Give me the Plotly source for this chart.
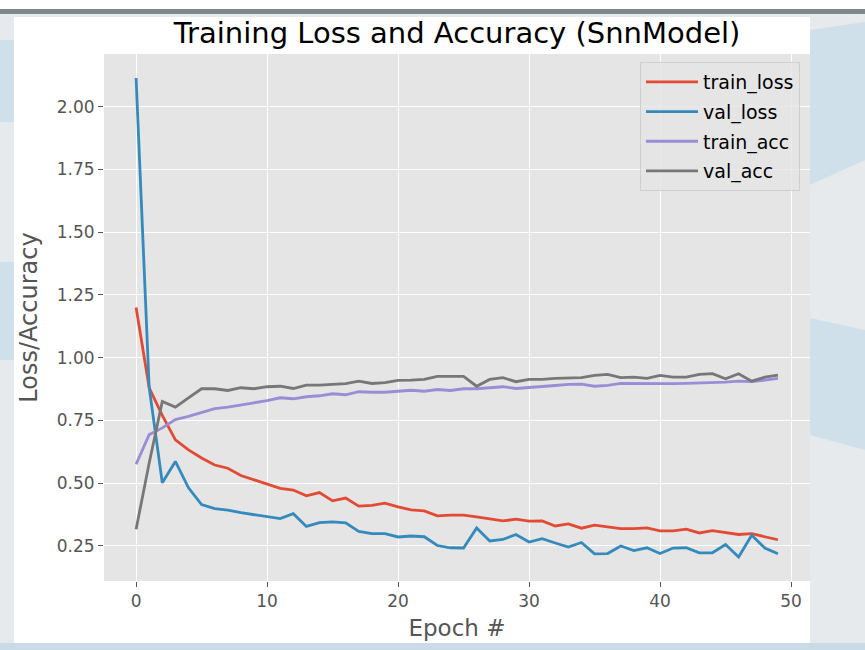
import plotly.graph_objects as go

epochs = list(range(50))

train_loss = [1.20, 0.88, 0.77, 0.672, 0.632, 0.600, 0.572, 0.559, 0.530, 0.512,
              0.495, 0.479, 0.472, 0.449, 0.462, 0.429, 0.440, 0.408, 0.411, 0.420,
              0.405, 0.393, 0.389, 0.369, 0.372, 0.372, 0.365, 0.356, 0.349, 0.356,
              0.348, 0.349, 0.329, 0.337, 0.320, 0.332, 0.325, 0.318, 0.318, 0.321,
              0.309, 0.309, 0.316, 0.301, 0.310, 0.302, 0.295, 0.298, 0.285, 0.274]

val_loss = [2.115, 0.88, 0.501, 0.586, 0.481, 0.414, 0.398, 0.392, 0.382, 0.374,
            0.365, 0.358, 0.378, 0.327, 0.342, 0.345, 0.341, 0.307, 0.298, 0.298,
            0.285, 0.289, 0.286, 0.251, 0.242, 0.241, 0.321, 0.269, 0.275, 0.295,
            0.265, 0.278, 0.261, 0.245, 0.263, 0.218, 0.219, 0.249, 0.231, 0.242,
            0.219, 0.241, 0.242, 0.222, 0.222, 0.255, 0.205, 0.292, 0.241, 0.218]

train_acc = [0.575, 0.693, 0.720, 0.753, 0.766, 0.783, 0.797, 0.803, 0.813, 0.820,
             0.829, 0.840, 0.836, 0.844, 0.848, 0.856, 0.852, 0.864, 0.862, 0.862,
             0.866, 0.870, 0.866, 0.873, 0.869, 0.876, 0.876, 0.880, 0.884, 0.877,
             0.880, 0.884, 0.889, 0.893, 0.894, 0.886, 0.889, 0.897, 0.896, 0.896,
             0.897, 0.896, 0.897, 0.898, 0.900, 0.902, 0.906, 0.904, 0.910, 0.917]

val_acc = [0.316, 0.58, 0.825, 0.803, 0.840, 0.876, 0.876, 0.869, 0.880, 0.876,
           0.884, 0.886, 0.877, 0.890, 0.890, 0.892, 0.896, 0.906, 0.897, 0.900,
           0.909, 0.910, 0.913, 0.925, 0.925, 0.925, 0.886, 0.913, 0.920, 0.904,
           0.913, 0.913, 0.917, 0.920, 0.920, 0.929, 0.933, 0.920, 0.922, 0.917,
           0.929, 0.922, 0.922, 0.933, 0.936, 0.916, 0.936, 0.906, 0.922, 0.930]

series_names = ["train_loss", "val_loss", "train_acc", "val_acc"]
series_values = [train_loss, val_loss, train_acc, val_acc]
series_colors = ["#E24A33", "#348ABD", "#988ED5", "#777777"]

title_text = "Training Loss and Accuracy (SnnModel)"
x_title = "Epoch #"
y_title = "Loss/Accuracy"
x_ticks = [0, 10, 20, 30, 40, 50]
y_ticks = [0.25, 0.50, 0.75, 1.00, 1.25, 1.50, 1.75, 2.00]

W, H = 865, 650
L, R, T, B = 104, 55, 54, 69
PW, PH = W - L - R, H - T - B


def xp(px):
    return (px - L) / PW


def yp(py):
    return (H - B - py) / PH


fig = go.Figure()
for name, vals, col in zip(series_names, series_values, series_colors):
    fig.add_trace(go.Scatter(x=epochs, y=vals, mode="lines", name=name,
                             legendgroup=name,
                             line=dict(color=col, width=2.8)))

shapes = []


def rect(x0, y0, x1, y1, color):
    shapes.append(dict(type="rect", xref="paper", yref="paper", layer="below",
                       x0=xp(x0), x1=xp(x1), y0=yp(y1), y1=yp(y0),
                       fillcolor=color, line=dict(width=0)))


def poly(points, color):
    d = "M " + " L ".join(f"{xp(a)},{yp(b)}" for a, b in points) + " Z"
    shapes.append(dict(type="path", xref="paper", yref="paper", layer="below",
                       path=d, fillcolor=color, line=dict(width=0)))


# screenshot surroundings
rect(0, 0, W, 9, "#ffffff")
rect(0, 9, W, 14, "#7e878b")
poly([(810, 30), (865, 22), (865, 160), (810, 185)], "#cfe0ea")
poly([(810, 318), (865, 330), (865, 450), (810, 435)], "#cfe0ea")
poly([(0, 40), (14, 40), (14, 122), (0, 122)], "#cfe0ea")
poly([(0, 262), (14, 262), (14, 360), (0, 360)], "#cfe0ea")
rect(0, 643, W, H, "#c9dbe6")
# figure and axes backgrounds
rect(14, 17, 810, 643, "#ffffff")
shapes.append(dict(type="rect", xref="paper", yref="paper", layer="below",
                   x0=0, x1=1, y0=0, y1=1, fillcolor="#E5E5E5", line=dict(width=0)))

axis_common = dict(showgrid=True, gridcolor="#ffffff", gridwidth=1.2,
                   zeroline=False, showline=False,
                   ticks="outside", ticklen=5, tickwidth=1, tickcolor="#555555",
                   tickfont=dict(family="DejaVu Sans", size=17, color="#555555"))

fig.update_layout(
    width=W, height=H,
    margin=dict(l=L, r=R, t=T, b=B, pad=0),
    paper_bgcolor="#e6eaed",
    plot_bgcolor="#E5E5E5",
    shapes=shapes,
    title=dict(text=title_text, x=xp(457), xref="paper", xanchor="center",
               y=1 - 33 / H, yref="container", yanchor="middle",
               font=dict(family="DejaVu Sans", size=29, color="#000000")),
    xaxis=dict(range=[-2.45, 51.45], tickvals=x_ticks,
               ticktext=[str(v) for v in x_ticks],
               title=dict(text=x_title, standoff=9,
                          font=dict(family="DejaVu Sans", size=23, color="#555555")),
               **axis_common),
    yaxis=dict(range=[0.1095, 2.2105], tickvals=y_ticks,
               ticktext=[f"{v:.2f}" for v in y_ticks],
               title=dict(text=y_title, standoff=12,
                          font=dict(family="DejaVu Sans", size=24, color="#555555")),
               **axis_common),
    legend=dict(x=xp(800), y=yp(62), xanchor="right", yanchor="top",
                bgcolor="rgba(229,229,229,0.8)", bordercolor="#d0d0d0", borderwidth=1,
                font=dict(family="DejaVu Sans", size=19, color="#000000"),
                tracegroupgap=2, itemwidth=52),
    showlegend=True,
)

fig.write_html("out.html", post_script="document.body.style.margin='0px';",
               config={"displayModeBar": False})
